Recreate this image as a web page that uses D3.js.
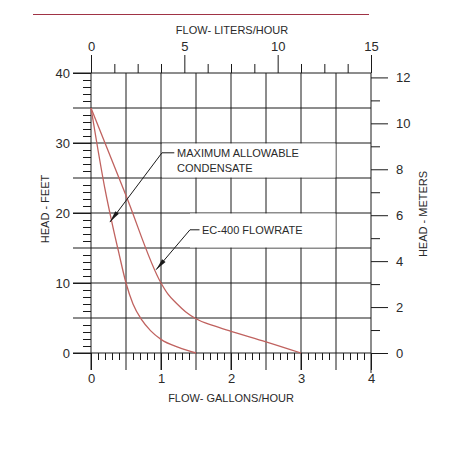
<!DOCTYPE html>
<html>
<head>
<meta charset="utf-8">
<script src="https://cdn.jsdelivr.net/npm/d3@7"></script>
<style>
  body { margin: 0; background: #fff; }
  text { font-family: "Liberation Sans", Arial, sans-serif; fill: #2a2a2a; }
</style>
</head>
<body>
<script>
// curve data (flow in gallons/hour, head in feet)
const ecGal = [0, 0.5, 1, 1.1, 1.22, 1.35, 1.5, 1.75, 2, 2.5, 3];
const ecFt  = [35, 22.5, 10, 8.4, 7.1, 5.9, 4.9, 3.9, 3.1, 1.6, 0];

const maxGal = [0, 0.1, 0.2, 0.3, 0.4, 0.5, 0.6, 0.72, 0.85, 1, 1.25, 1.5];
const maxFt  = [35, 29, 23.4, 18.6, 14.2, 10, 7.0, 4.8, 3.2, 1.95, 0.8, 0];

// tick values
const galLabels = [0, 1, 2, 3, 4];
const literLabels = [0, 5, 10, 15];
const feetLabels = [0, 10, 20, 30, 40];
const meterLabels = [0, 2, 4, 6, 8, 10, 12];

const width = 450,
      height = 450;

const x = d3.scaleLinear().domain([0, 4]).range([91, 371]);
const xL = d3.scaleLinear().domain([0, 15]).range([91, 371]);
const y = d3.scaleLinear().domain([0, 40]).range([353, 73]);
const yM = d3.scaleLinear().domain([0, 40 * 0.3048]).range([353, 73]);

const svg = d3.select("body")
    .append("svg")
    .attr("width", width)
    .attr("height", height);

// red rule at top
svg.append("line")
    .attr("x1", 33).attr("x2", 369)
    .attr("y1", 14.5).attr("y2", 14.5)
    .attr("stroke", "#a03345")
    .attr("stroke-width", 1.2);

const ink = "#1a1a1a";

// grid
svg.append("g")
    .selectAll("line")
    .data(d3.range(0, 40.1, 5))
    .enter().append("line")
    .attr("x1", 73).attr("x2", 371)
    .attr("y1", d => y(d)).attr("y2", d => y(d))
    .attr("stroke", ink).attr("stroke-width", 1);

svg.append("g")
    .selectAll("line")
    .data(d3.range(0, 4.01, 0.5))
    .enter().append("line")
    .attr("x1", d => x(d)).attr("x2", d => x(d))
    .attr("y1", 73).attr("y2", d => d === 4 ? 373 : 370)
    .attr("stroke", ink).attr("stroke-width", 1);

// white boxes behind the labels
svg.append("rect")
    .attr("x", x(1.014)).attr("width", x(3.5) - x(1.014) - 0.5)
    .attr("y", y(30) + 0.5).attr("height", y(25) - y(30) - 1)
    .attr("fill", "#fff");
svg.append("rect")
    .attr("x", x(1.414)).attr("width", x(3.5) - x(1.414) - 0.5)
    .attr("y", y(20) + 0.5).attr("height", y(15) - y(20) - 1)
    .attr("fill", "#fff");

function styleAxis(g) {
  g.select(".domain").remove();
  g.selectAll(".tick line").attr("stroke", ink);
  g.selectAll("text")
    .style("font-size", "13px")
    .style("font-family", "Liberation Sans, Arial, sans-serif")
    .attr("fill", "#2a2a2a");
}

// top axis (liters/hour)
svg.append("g")
    .attr("transform", "translate(0,73)")
    .call(d3.axisTop(xL).tickValues(literLabels).tickSize(18).tickPadding(4))
    .call(styleAxis);
svg.append("g")
    .attr("transform", "translate(0,73)")
    .call(d3.axisTop(xL).tickValues(d3.range(0, 15.01, 1.25).filter(d => d % 5 !== 0))
      .tickSize(9).tickFormat(""))
    .call(styleAxis);

// bottom axis (gallons/hour)
svg.append("g")
    .attr("transform", "translate(0,353)")
    .call(d3.axisBottom(x).tickValues(galLabels).tickSize(17).tickPadding(4).tickFormat(d3.format("d")))
    .call(styleAxis);
svg.append("g")
    .attr("transform", "translate(0,353)")
    .call(d3.axisBottom(x).tickValues(d3.range(0, 40).map(d => d / 10).filter(d => Math.round(d * 10) % 5 !== 0))
      .tickSize(7).tickFormat(""))
    .call(styleAxis);

// left axis (feet)
svg.append("g")
    .attr("transform", "translate(91,0)")
    .call(d3.axisLeft(y).tickValues(feetLabels).tickSize(18).tickPadding(3))
    .call(styleAxis);
svg.append("g")
    .attr("transform", "translate(91,0)")
    .call(d3.axisLeft(y).tickValues(d3.range(0, 40).filter(d => d % 5 !== 0))
      .tickSize(8).tickFormat(""))
    .call(styleAxis);

// right axis (meters)
svg.append("g")
    .attr("transform", "translate(371,0)")
    .call(d3.axisRight(yM).tickValues(meterLabels).tickSize(17).tickPadding(8))
    .call(styleAxis);
svg.append("g")
    .attr("transform", "translate(371,0)")
    .call(d3.axisRight(yM).tickValues([1, 3, 5, 7, 9, 11]).tickSize(9).tickFormat(""))
    .call(styleAxis);

// curves
const line = d3.line()
    .x(d => x(d[0]))
    .y(d => y(d[1]))
    .curve(d3.curveMonotoneX);

svg.append("path")
    .datum(d3.zip(maxGal, maxFt))
    .attr("d", line)
    .attr("fill", "none")
    .attr("stroke", "#c0625f")
    .attr("stroke-width", 1.3);

svg.append("path")
    .datum(d3.zip(ecGal, ecFt))
    .attr("d", line)
    .attr("fill", "none")
    .attr("stroke", "#c0625f")
    .attr("stroke-width", 1.3);

// leader lines with arrowheads
const leaders = [
  { tip: [0.27, 18.7], corner: [1.014, 28.6], end: 1.19, text: ["MAXIMUM ALLOWABLE", "CONDENSATE"], tx: 1.23 },
  { tip: [0.93, 11.9], corner: [1.414, 17.6], end: 1.55, text: ["EC-400 FLOWRATE"], tx: 1.586 }
];

leaders.forEach(l => {
  const tx = x(l.tip[0]), ty = y(l.tip[1]);
  const cx = x(l.corner[0]), cy = y(l.corner[1]);
  svg.append("polyline")
      .attr("points", [[x(l.end), cy], [cx, cy], [tx, ty]].map(p => p.join(",")).join(" "))
      .attr("fill", "none")
      .attr("stroke", ink)
      .attr("stroke-width", 1);
  const ang = Math.atan2(cy - ty, cx - tx);
  const len = 12, w = 2.2;
  const bx = tx + len * Math.cos(ang), by = ty + len * Math.sin(ang);
  const px = -Math.sin(ang) * w, py = Math.cos(ang) * w;
  svg.append("polygon")
      .attr("points", [[tx, ty], [bx + px, by + py], [bx - px, by - py]].map(p => p.join(",")).join(" "))
      .attr("fill", ink);
  l.text.forEach((t, i) => {
    svg.append("text")
        .attr("x", x(l.tx))
        .attr("y", cy + 4 + i * 15)
        .style("font-size", "11px")
        .text(t);
  });
});

// axis titles
svg.append("text")
    .attr("x", 232).attr("y", 34)
    .attr("text-anchor", "middle")
    .style("font-size", "11px")
    .text("FLOW- LITERS/HOUR");

svg.append("text")
    .attr("x", 231).attr("y", 402)
    .attr("text-anchor", "middle")
    .style("font-size", "11px")
    .text("FLOW- GALLONS/HOUR");

svg.append("text")
    .attr("transform", "translate(49,209) rotate(-90)")
    .attr("text-anchor", "middle")
    .style("font-size", "11px")
    .text("HEAD - FEET");

svg.append("text")
    .attr("transform", "translate(427,214) rotate(-90)")
    .attr("text-anchor", "middle")
    .style("font-size", "11px")
    .text("HEAD - METERS");
</script>
</body>
</html>
